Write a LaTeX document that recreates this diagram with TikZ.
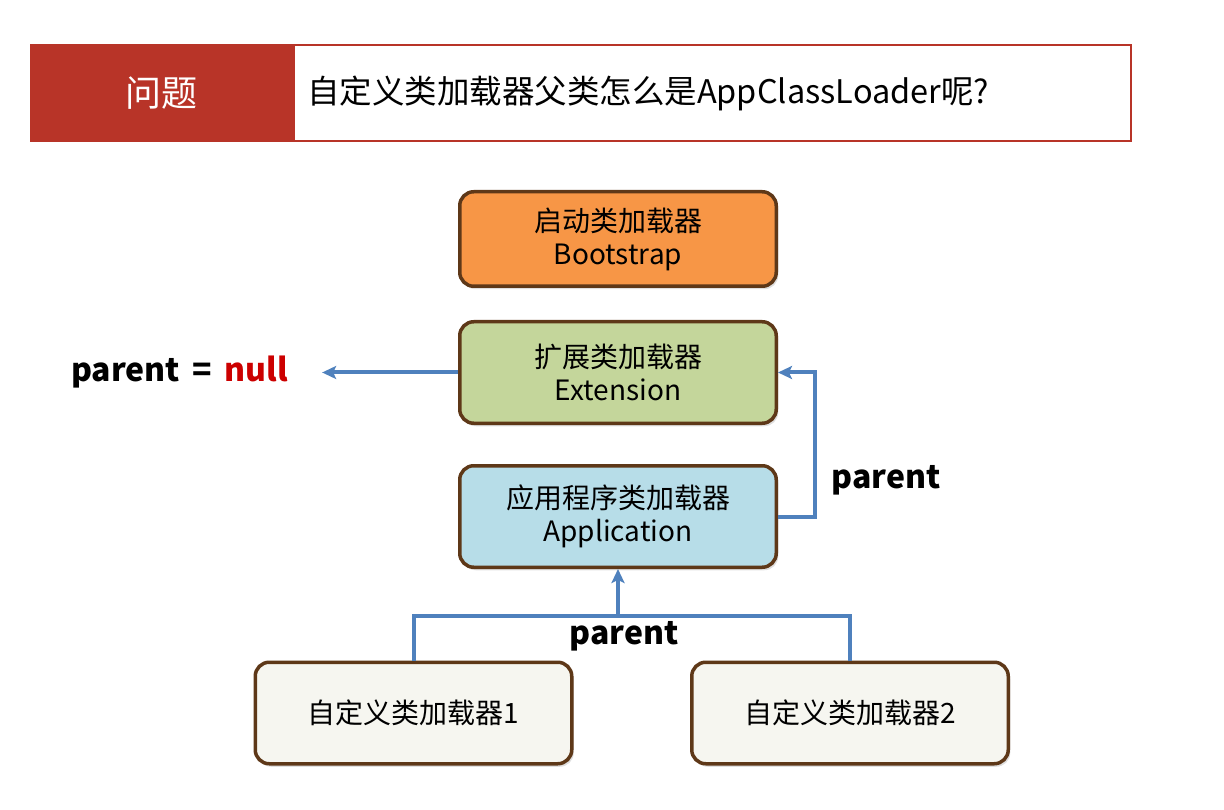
\documentclass[tikz,border=0pt]{standalone}
\usepackage{fontspec}
\setmainfont{Noto Sans CJK SC}
\usetikzlibrary{positioning}
\usetikzlibrary{arrows.meta}
\usetikzlibrary{shadows}

\definecolor{headred}{RGB}{184,52,40}
\definecolor{bootorange}{RGB}{247,150,70}
\definecolor{extgreen}{RGB}{196,214,155}
\definecolor{appblue}{RGB}{183,221,232}
\definecolor{userwhite}{RGB}{246,246,240}
\definecolor{boxedge}{RGB}{94,56,24}
\definecolor{linkblue}{RGB}{79,129,189}
\definecolor{nullred}{RGB}{204,0,0}

\begin{document}
\begin{tikzpicture}[x=1pt, y=-1pt, node distance =133.5pt and 204.5pt ,on grid ,
    loader/.style ={ rectangle ,rounded corners =14pt ,draw =boxedge ,line width =3.5pt ,
    minimum width =316.5pt ,minimum height =101.5pt ,align =center ,text =black ,
    font =\fontsize{28}{33}\selectfont ,
    drop shadow ={opacity =0.25 ,shadow xshift =2pt ,shadow yshift =-3pt}},
    link/.style ={draw =linkblue ,line width =4pt ,-{Stealth[length=14pt,width=13pt,inset=3pt]}},
    tag/.style ={font =\fontsize{32}{32}\selectfont\bfseries ,text =black ,inner sep =4pt}]
    \useasboundingbox (0,0) rectangle (1224,810);

    % header
    \node[fill =headred ,minimum width =263pt ,minimum height =98pt ,text =white ,
      font =\fontsize{36}{36}\selectfont] (topic) at (161.5,93) {问题};
    \node[draw =headred ,line width =2pt ,minimum width =837pt ,minimum height =96pt ,
      text width =811pt ,inner xsep =13pt ,align =left ,font =\fontsize{32.5}{33}\selectfont]
      (question) [right =551pt of topic] {自定义类加载器父类怎么是AppClassLoader呢?};

    % loaders
    \node[loader ,fill =bootorange ,minimum height =94.5pt] (boot) at (618,239) {启动类加载器\\Bootstrap};
    \node[loader ,fill =extgreen] (ext) [below =of boot] {扩展类加载器\\Extension};
    \node[loader ,fill =appblue] (app) [below =144pt of ext] {应用程序类加载器\\Application};
    \node[loader ,fill =userwhite] (user1) [below left =196.5pt and 204.5pt of app] {自定义类加载器1};
    \node[loader ,fill =userwhite] (user2) [below right =196.5pt and 232pt of app] {自定义类加载器2};

    % labels
    \node[tag] (nulltxt) [left =438.5pt of ext] {parent \,=\, \textcolor{nullred}{null}};
    \node[tag] (appparent) [above right =36.5pt and 268pt of app] {parent};
    \node[tag] (userparent) [below right =119.5pt and 6pt of app] {parent};

    % connectors
    \draw[link] (ext.west) -- (nulltxt.east) [shorten >=30pt];
    \draw[link] (app.east) -- ++(37,0) |- (ext.east);
    \draw[link ,-] (user1.north) -- ++(0,-44.5) coordinate (bus) -| (user2.north);
    \draw[link] (bus -| app.south) -- (app.south);
\end{tikzpicture}
\end{document}
